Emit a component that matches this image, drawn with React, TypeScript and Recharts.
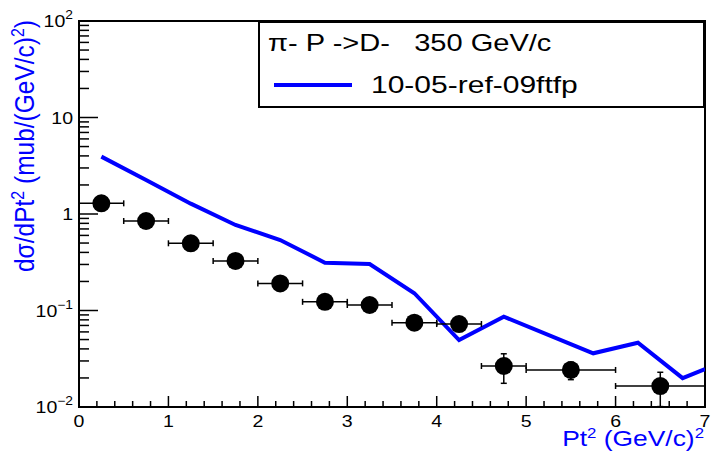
import React from 'react'
import {
  ComposedChart,
  Line,
  Scatter,
  ErrorBar,
  XAxis,
  YAxis,
  ReferenceArea,
  Legend
} from 'recharts'

// measured D- points
const dataX = [0.25, 0.75, 1.25, 1.75, 2.25, 2.75, 3.25, 3.75, 4.25, 4.75, 5.5, 6.5]
const dataY = [1.29, 0.846, 0.497, 0.326, 0.191, 0.123, 0.114, 0.0748, 0.0724, 0.0266, 0.0242, 0.0165]
const dataXErr = [0.25, 0.25, 0.25, 0.25, 0.25, 0.25, 0.25, 0.25, 0.25, 0.25, 0.5, 0.5]
const dataYErr = [0.08, 0.05, 0.03, 0.02, 0.012, 0.008, 0.008, 0.005, 0.006, 0.009, 0.005, 0.0064]

// model curve
const modelX = [0.25, 0.75, 1.25, 1.75, 2.25, 2.75, 3.25, 3.75, 4.25, 4.75, 5.75, 6.25, 6.75, 7.0]
const modelY = [3.93, 2.25, 1.28, 0.769, 0.538, 0.313, 0.303, 0.151, 0.0494, 0.0863, 0.036, 0.0464, 0.0199, 0.0247]

const yDecades = [0.01, 0.1, 1, 10, 100]
const yDecadeLabels = ['10|\u22122', '10|\u22121', '1', '10', '10|2']
const yMinorSteps = [2, 3, 4, 5, 6, 7, 8, 9]
const xMajor = [0, 1, 2, 3, 4, 5, 6, 7]
const xMinorSteps = [0.2, 0.4, 0.6, 0.8]

const legendTitle = '\u03c0- P ->D-   350 GeV/c'
const seriesName = '10-05-ref-09ftfp'

const points = dataX.map((x, i) => ({ x, y: dataY[i], xErr: dataXErr[i], yErr: dataYErr[i] }))
const model = modelX.map((x, i) => ({ x, y: modelY[i] }))

const yTicks = [
  ...yDecades.slice(0, -1).flatMap(d => [d, ...yMinorSteps.map(m => +(d * m).toPrecision(3))]),
  yDecades[yDecades.length - 1]
]
const xTicks = [
  ...xMajor.slice(0, -1).flatMap(v => [v, ...xMinorSteps.map(s => +(v + s).toFixed(1))]),
  xMajor[xMajor.length - 1]
]

const FONT = '"Liberation Sans", Arial, sans-serif'
const BLUE = '#0000ff'

const YTick = (props: any) => {
  const { x, y, payload } = props
  const v = payload.value
  const idx = yDecades.findIndex(d => Math.abs(d - v) < d * 1e-6)
  const major = idx >= 0
  let label: React.ReactNode = null
  if (major) {
    const [base, sup] = yDecadeLabels[idx].split('|')
    label = (
      <text
        transform={`translate(${x - 6},${y}) scale(1.15,1)`}
        textAnchor="end"
        dy="0.36em"
        fontFamily={FONT}
        fontSize={17}
        fill="#000"
      >
        {base}
        {sup && <tspan dy={-8} fontSize={12}>{sup}</tspan>}
      </text>
    )
  }
  return (
    <g>
      <line x1={x} x2={x + (major ? 19 : 10)} y1={y} y2={y} stroke="#000" strokeWidth={1.5} />
      {label}
    </g>
  )
}

const XTick = (props: any) => {
  const { x, y, payload } = props
  const v = payload.value
  const major = Math.abs(v - Math.round(v)) < 1e-6
  return (
    <g>
      <line x1={x} x2={x} y1={y} y2={y - (major ? 11 : 6)} stroke="#000" strokeWidth={1.5} />
      {major && (
        <text
          transform={`translate(${x},${y + 14}) scale(1.15,1)`}
          textAnchor="middle"
          dy="0.36em"
          fontFamily={FONT}
          fontSize={17}
          fill="#000"
        >
          {v}
        </text>
      )}
    </g>
  )
}

const XTitle = (props: any) => {
  const vb = props.viewBox || { x: 79, y: 407, width: 626, height: 44 }
  return (
    <text
      transform={`translate(${vb.x + vb.width - 1},${vb.y + 31}) scale(1.2,1)`}
      textAnchor="end"
      dy="0.36em"
      fontFamily={FONT}
      fontSize={22}
      fill={BLUE}
    >
      Pt<tspan dy={-8} fontSize={14}>2</tspan>
      <tspan dy={8}> (GeV/c)</tspan>
      <tspan dy={-8} fontSize={14}>2</tspan>
    </text>
  )
}

const YTitle = (props: any) => {
  const vb = props.viewBox || { x: 0, y: 21, width: 79, height: 386 }
  return (
    <text
      transform={`translate(${vb.x + 34},${vb.y - 1}) scale(1.12,1) rotate(-90)`}
      textAnchor="end"
      fontFamily={FONT}
      fontSize={24.5}
      fill={BLUE}
    >
      d{'\u03c3'}/dPt<tspan dy={-9} fontSize={16}>2</tspan>
      <tspan dy={9}> (mub/(GeV/c)</tspan>
      <tspan dy={-9} fontSize={16}>2</tspan>
      <tspan dy={9}>)</tspan>
    </text>
  )
}

const LegendBox = () => (
  <div
    style={{
      boxSizing: 'border-box',
      width: 447,
      height: 87,
      border: '2px solid #000',
      background: '#fff',
      position: 'relative',
      fontFamily: FONT,
      fontSize: 24,
      lineHeight: '24px',
      color: '#000'
    }}
  >
    <div style={{ position: 'absolute', left: 8, top: 8, whiteSpace: 'pre', transform: 'scaleX(1.21)', transformOrigin: 'left' }}>
      {legendTitle}
    </div>
    <div style={{ position: 'absolute', left: 14, top: 60, width: 78, height: 4, background: BLUE }} />
    <div style={{ position: 'absolute', left: 111, top: 50, whiteSpace: 'pre', transform: 'scaleX(1.25)', transformOrigin: 'left' }}>
      {seriesName}
    </div>
  </div>
)

const App = () => (
  <div style={{ position: 'absolute', left: 0, top: 0, background: '#fff' }}>
    <ComposedChart width={714} height={451} margin={{ top: 21, right: 9, bottom: 0, left: 0 }}>
      <XAxis
        dataKey="x"
        type="number"
        domain={[0, 7]}
        ticks={xTicks}
        interval={0}
        tickSize={0}
        tickMargin={0}
        height={44}
        allowDataOverflow
        axisLine={{ stroke: '#000', strokeWidth: 2 }}
        tick={XTick}
        label={{ content: XTitle }}
      />
      <YAxis
        type="number"
        scale="log"
        domain={[0.01, 100]}
        ticks={yTicks}
        interval={0}
        tickSize={0}
        tickMargin={0}
        width={79}
        allowDataOverflow
        axisLine={{ stroke: '#000', strokeWidth: 2 }}
        tick={YTick}
        label={{ content: YTitle }}
      />
      <ReferenceArea x1={0} x2={7} y1={0.01} y2={100} fill="none" stroke="#000" strokeWidth={2} />
      <Line
        data={model}
        dataKey="y"
        type="linear"
        stroke={BLUE}
        strokeWidth={4}
        dot={false}
        isAnimationActive={false}
      />
      <Scatter
        data={points}
        dataKey="y"
        isAnimationActive={false}
        shape={(p: any) => <circle cx={p.cx} cy={p.cy} r={9} fill="#000" />}
      >
        <ErrorBar dataKey="xErr" direction="x" width={3} stroke="#000" strokeWidth={1.5} isAnimationActive={false} />
        <ErrorBar dataKey="yErr" direction="y" width={3} stroke="#000" strokeWidth={1.5} isAnimationActive={false} />
      </Scatter>
      <Legend
        layout="horizontal"
        verticalAlign="middle"
        align="center"
        content={LegendBox}
        wrapperStyle={{ left: 258, top: 21, width: 447, height: 87 }}
      />
    </ComposedChart>
  </div>
)

export default App
